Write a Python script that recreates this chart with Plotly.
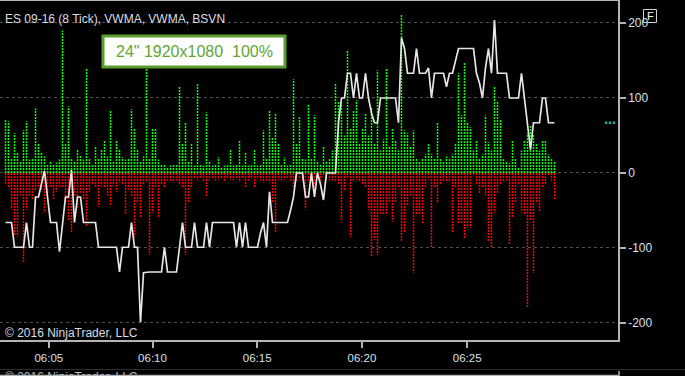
import plotly.graph_objects as go

# ---- data (one entry per 8-tick bar, evenly spaced) ----
buy_vol = [72, 69, 20, 53, 28, 15, 57, 69, 18, 20, 86, 40, 28, 22, 11, 15, 12, 14, 18, 190,
           40, 89, 19, 15, 31, 24, 18, 140, 20, 12, 36, 20, 31, 44, 22, 84, 15, 44, 31, 21,
           18, 20, 85, 60, 31, 15, 22, 145, 20, 60, 60, 18, 12, 11, 8, 10, 11, 12, 116, 40,
           67, 15, 40, 10, 120, 12, 10, 81, 15, 10, 12, 21, 8, 10, 12, 32, 10, 12, 43, 10,
           28, 10, 12, 32, 10, 12, 57, 20, 84, 48, 80, 39, 12, 21, 10, 12, 125, 40, 75, 20,
           18, 92, 20, 77, 15, 12, 35, 15, 20, 30, 120, 95, 93, 50, 164, 60, 84, 97, 40, 60,
           80, 50, 88, 40, 137, 30, 45, 140, 35, 60, 44, 30, 211, 57, 53, 35, 57, 20, 15, 20,
           25, 40, 25, 20, 68, 20, 15, 22, 19, 25, 40, 133, 77, 147, 67, 61, 30, 44, 20, 25,
           77, 41, 30, 115, 95, 71, 20, 15, 13, 44, 20, 8, 30, 44, 53, 63, 51, 40, 30, 44,
           44, 25, 20, 15]
sell_vol = [-15, -20, -49, -83, -85, -30, -120, -49, -30, -36, -23, -20, -25, -53, -27, -20, -36, -25, -20, -20,
            -40, -63, -79, -30, -47, -27, -36, -72, -25, -15, -20, -45, -18, -20, -30, -43, -18, -25, -13, -15,
            -56, -22, -32, -85, -40, -59, -15, -12, -109, -53, -20, -59, -15, -20, -10, -12, -13, -10, -15, -20,
            -109, -40, -19, -8, -10, -8, -12, -32, -10, -8, -10, -9, -8, -12, -8, -9, -10, -8, -12, -8,
            -19, -10, -8, -20, -8, -10, -13, -10, -13, -40, -79, -9, -10, -9, -8, -10, -19, -12, -9, -10,
            -49, -12, -10, -19, -8, -10, -5, -8, -10, -10, -12, -15, -65, -23, -7, -85, -12, -9, -12, -16,
            -20, -49, -112, -89, -109, -56, -56, -56, -40, -65, -39, -20, -92, -80, -43, -30, -133, -56, -56, -67,
            -20, -9, -100, -20, -39, -15, -12, -12, -12, -79, -20, -67, -67, -87, -73, -73, -2, -15, -27, -20,
            -30, -92, -100, -53, -27, -15, -12, -10, -96, -60, -39, -15, -53, -56, -179, -63, -133, -39, -52, -20,
            -15, -3, -10, -36]
vwma_diff = [-66, -66, -66, -99, -99, -99, -99, -66, -99, -99, -32, -32, -15, 3, -32, -66, -66, -66, -105, -66,
             -32, -32, 4, -66, -32, -32, -66, -66, -66, -66, -66, -99, -99, -99, -99, -99, -99, -99, -132, -99,
             -99, -99, -66, -99, -99, -199, -133, -132, -132, -132, -132, -132, -132, -99, -132, -132, -132, -132, -99, -66,
             -99, -99, -99, -66, -99, -99, -99, -66, -99, -66, -66, -66, -66, -66, -66, -66, -66, -99, -66, -99,
             -66, -99, -99, -99, -99, -80, -66, -99, -25, -66, -66, -66, -66, -66, -66, -50, -32, 0, 0, 0,
             -32, -32, 0, -32, 0, -15, -36, 0, 0, 0, 0, 67, 100, 100, 133, 133, 100, 133, 100, 100,
             133, 100, 80, 67, 67, 100, 100, 100, 100, 100, 100, 67, 180, 166, 133, 133, 133, 166, 133, 133,
             133, 140, 100, 133, 133, 133, 133, 115, 133, 133, 150, 166, 166, 166, 166, 166, 166, 133, 120, 100,
             140, 166, 133, 204, 133, 133, 133, 133, 100, 100, 100, 100, 133, 100, 67, 31, 67, 67, 67, 100,
             100, 67, 67, 67]
tick_labels = ["06:05", "06:10", "06:15", "06:20", "06:25"]
tick_bar_pos = [14.43, 49.0, 83.9, 118.8, 153.9]
y_ticks = [-200, -100, 0, 100, 200]
last_marker_pos = [200.2, 201.5, 202.8]

W, H = 685, 376
FONT = "Liberation Sans, Arial, sans-serif"


def px(x):
    return x / W


def py(y):
    return (H - y) / H


def segments(vals):
    xs, ys = [], []
    for i, v in enumerate(vals):
        xs += [i, i, None]
        ys += [0, v, None]
    return xs, ys


fig = go.Figure()
gx, gy = segments(buy_vol)
rx, ry = segments(sell_vol)
fig.add_trace(go.Scatter(x=gx, y=gy, mode="lines", hoverinfo="skip",
                         line=dict(color="#00ff00", width=1.5, dash="2px,1px")))
fig.add_trace(go.Scatter(x=rx, y=ry, mode="lines", hoverinfo="skip",
                         line=dict(color="#ff0000", width=1.5, dash="2px,1px")))
fig.add_trace(go.Scatter(x=list(range(len(vwma_diff))), y=vwma_diff, mode="lines",
                         line=dict(color="#e6e6e6", width=1.7)))
fig.add_trace(go.Scatter(x=last_marker_pos, y=[vwma_diff[-1]] * len(last_marker_pos), mode="markers",
                         marker=dict(symbol="square", size=2.5, color="#22a89a")))

axis_line = "#b4b4b4"
fig.update_layout(
    width=W, height=H, showlegend=False,
    paper_bgcolor="#000000", plot_bgcolor="#000000",
    margin=dict(l=0, r=0, t=0, b=0, autoexpand=False),
    font=dict(family=FONT, size=12, color="#d8d8d8"),
    xaxis=dict(domain=[0, 618 / W], range=[-1.833, 204.17],
               showgrid=False, zeroline=False, showline=True, mirror=True,
               linecolor=axis_line, linewidth=1.5,
               ticks="outside", ticklen=6, tickcolor=axis_line, tickwidth=1.5,
               tickvals=tick_bar_pos, ticktext=tick_labels,
               tickfont=dict(size=11.5, color="#d8e0ea")),
    yaxis=dict(domain=[py(340), py(1)], range=[-222.7, 229.3], side="right",
               showgrid=True, gridcolor="#505050", griddash="dot", gridwidth=1,
               zeroline=False, showline=True, mirror=True,
               linecolor=axis_line, linewidth=1.5,
               ticks="outside", ticklen=6, tickcolor=axis_line, tickwidth=1.5,
               tickvals=y_ticks, ticktext=[str(v) for v in y_ticks],
               tickfont=dict(size=12, color="#d8e0ea")),
)

shapes = [
    dict(type="rect", xref="paper", yref="paper", x0=px(103), x1=px(285), y0=py(36), y1=py(67),
         line=dict(color="#5c9e2e", width=3), fillcolor="#ffffff", layer="above"),
    dict(type="rect", xref="paper", yref="paper", x0=px(643.5), x1=px(656.5), y0=py(9.5), y1=py(22.5),
         line=dict(color="#d0d0d0", width=1), fillcolor="rgba(0,0,0,0)"),
    dict(type="line", xref="paper", yref="paper", x0=0, x1=1, y0=py(369.5), y1=py(369.5),
         line=dict(color="#2e2e2e", width=1)),
    dict(type="line", xref="paper", yref="paper", x0=0, x1=px(619), y0=py(375.5), y1=py(375.5),
         line=dict(color=axis_line, width=1.5)),
    dict(type="line", xref="paper", yref="paper", x0=px(619), x1=px(619), y0=py(371), y1=py(376),
         line=dict(color=axis_line, width=1.5)),
]
fig.update_layout(shapes=shapes)

annotations = [
    dict(text="ES 09-16 (8 Tick), VWMA, VWMA, BSVN", xref="paper", yref="paper",
         x=px(3), y=py(19), xanchor="left", yanchor="middle", showarrow=False,
         font=dict(size=12, color="#d8dde4")),
    dict(text="© 2016 NinjaTrader, LLC", xref="paper", yref="paper",
         x=px(3), y=py(333), xanchor="left", yanchor="middle", showarrow=False,
         font=dict(size=12, color="#d8dde4")),
    dict(text="© 2016 NinjaTrader, LLC", xref="paper", yref="paper",
         x=px(3), y=py(377), xanchor="left", yanchor="middle", showarrow=False,
         font=dict(size=12, color="#b8bcc2")),
    dict(text="24\" 1920x1080 \u00a0100%", xref="paper", yref="paper",
         x=px(194), y=py(51.5), xanchor="center", yanchor="middle", showarrow=False,
         font=dict(size=16, color="#62a536")),
    dict(text="F", xref="paper", yref="paper",
         x=px(650), y=py(16), xanchor="center", yanchor="middle", showarrow=False,
         font=dict(size=11, color="#ffffff")),
]
fig.update_layout(annotations=annotations)

fig.write_html("out.html", config={"displayModeBar": False},
               post_script="document.body.style.margin='0';document.body.style.background='#000';")
